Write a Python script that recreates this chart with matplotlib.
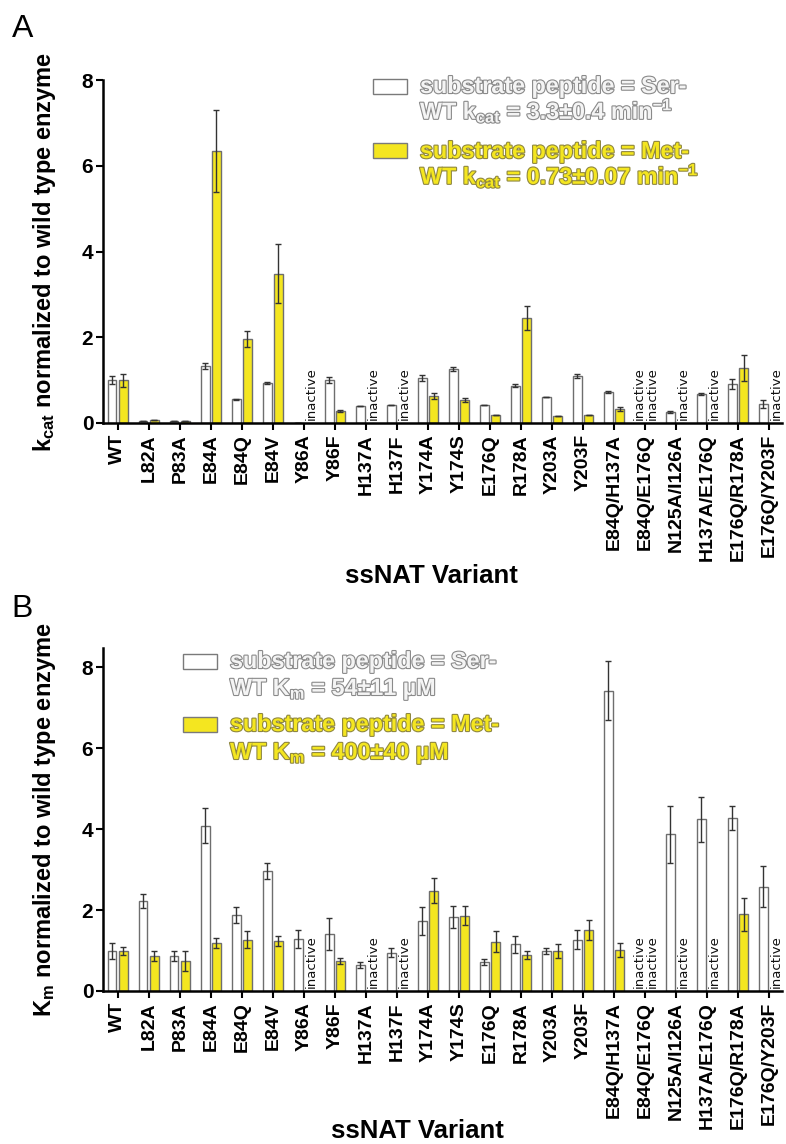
import numpy as np
import matplotlib
matplotlib.use("Agg")
import matplotlib.pyplot as plt
import matplotlib.patheffects as pe
from matplotlib.patches import Rectangle

plt.rcParams['font.family'] = ['Liberation Sans', 'DejaVu Sans']
plt.rcParams['font.weight'] = 'bold'
plt.rcParams['mathtext.fontset'] = 'custom'
plt.rcParams['mathtext.rm'] = 'Liberation Sans:bold'
plt.rcParams['mathtext.it'] = 'Liberation Sans:bold'
plt.rcParams['mathtext.bf'] = 'Liberation Sans:bold'

variants = ['WT', 'L82A', 'P83A', 'E84A', 'E84Q', 'E84V', 'Y86A', 'Y86F',
            'H137A', 'H137F', 'Y174A', 'Y174S', 'E176Q', 'R178A', 'Y203A',
            'Y203F', 'E84Q/H137A', 'E84Q/E176Q', 'N125A/I126A', 'H137A/E176Q',
            'E176Q/R178A', 'E176Q/Y203F']

nan = np.nan
# panel A: kcat relative to WT (nan = inactive)
kcat_ser = [1.0, 0.05, 0.04, 1.34, 0.55, 0.93, 0.01, 1.0, 0.40, 0.42, 1.05, 1.26,
            0.42, 0.87, 0.61, 1.10, 0.73, nan, 0.26, 0.68, 0.91, 0.44]
kcat_ser_err = [0.09, 0.0, 0.0, 0.07, 0.02, 0.02, 0.0, 0.07, 0.0, 0.0, 0.06, 0.05,
                0.0, 0.03, 0.0, 0.05, 0.02, nan, 0.02, 0.02, 0.12, 0.09]
kcat_met = [1.0, 0.08, 0.04, 6.35, 1.96, 3.48, nan, 0.28, nan, nan, 0.64, 0.53,
            0.19, 2.46, 0.16, 0.19, 0.33, nan, nan, nan, 1.28, nan]
kcat_met_err = [0.15, 0.0, 0.0, 0.96, 0.19, 0.69, nan, 0.03, nan, nan, 0.07, 0.05,
                0.0, 0.28, 0.0, 0.0, 0.04, nan, nan, nan, 0.31, nan]

# panel B: Km relative to WT
km_ser = [0.99, 2.22, 0.86, 4.08, 1.88, 2.96, 1.28, 1.41, 0.64, 0.95, 1.73, 1.83,
          0.71, 1.15, 0.99, 1.27, 7.42, nan, 3.87, 4.24, 4.28, 2.58]
km_ser_err = [0.2, 0.18, 0.13, 0.43, 0.2, 0.2, 0.22, 0.4, 0.08, 0.1, 0.35, 0.28,
              0.07, 0.2, 0.08, 0.24, 0.74, nan, 0.7, 0.55, 0.3, 0.5]
km_met = [0.99, 0.86, 0.74, 1.19, 1.27, 1.23, nan, 0.74, nan, nan, 2.48, 1.86,
          1.22, 0.9, 0.99, 1.5, 1.01, nan, nan, nan, 1.89, nan]
km_met_err = [0.1, 0.12, 0.24, 0.12, 0.2, 0.13, nan, 0.07, nan, nan, 0.3, 0.24,
              0.25, 0.1, 0.18, 0.25, 0.17, nan, nan, nan, 0.4, nan]

W, H = 786, 1144
fig = plt.figure(figsize=(W / 100, H / 100), dpi=100)

white_c = '#ffffff'
yellow_c = '#f4e620'
edge_c = '#6e6e6e'


def px_axes(left, top, right, bottom):
    return fig.add_axes([left / W, 1 - bottom / H, (right - left) / W, (bottom - top) / H])


def draw_panel(ax, ser, ser_err, met, met_err, ymax):
    x = np.arange(len(variants))
    off, bw = 0.18, 0.27
    ekw = dict(ecolor='#333333', elinewidth=1.0, capsize=2.2, capthick=1.0)
    ax.bar(x - off, ser, bw, yerr=ser_err, color=white_c, edgecolor=edge_c,
           linewidth=1.0, error_kw=ekw, zorder=2)
    ax.bar(x + off, met, bw, yerr=met_err, color=yellow_c, edgecolor=edge_c,
           linewidth=1.0, error_kw=ekw, zorder=2)
    for i in range(len(variants)):
        for dx, v in ((-0.2, ser[i]), (0.25, met[i])):
            if np.isnan(v):
                ax.annotate('inactive', (x[i] + dx, 0), xytext=(0, 2),
                            textcoords='offset points', rotation=90,
                            ha='center', va='bottom', fontsize=9.5,
                            family='DejaVu Sans', fontweight='normal',
                            color='#111111')
    ax.set_xlim(-0.48, 21.42)
    ax.set_ylim(0, ymax)
    ax.set_xticks(x)
    ax.set_xticklabels(variants, rotation=90, fontsize=14, fontweight='bold')
    ax.set_yticks([0, 2, 4, 6, 8])
    ax.tick_params(axis='y', labelsize=15, width=1.5, length=5, pad=2)
    ax.tick_params(axis='x', width=1.5, length=5, pad=3)
    for s in ('top', 'right'):
        ax.spines[s].set_visible(False)
    for s in ('left', 'bottom'):
        ax.spines[s].set_linewidth(1.8)


def legend_block(lines, box_top):
    # lines: list of (text, fill, stroke, baseline_y_px)
    for (txt, fill, stroke, by) in lines:
        t = fig.text(box_top['text_x'] / W, 1 - by / H, txt, fontsize=16.8,
                     fontweight='bold', color=fill, va='baseline', ha='left')
        t.set_path_effects([pe.Stroke(linewidth=1.6, foreground=stroke), pe.Normal()])
    for (bt, fill) in box_top['boxes']:
        fig.patches.append(Rectangle((box_top['box_x'] / W, 1 - (bt + 15) / H),
                                     34 / W, 15 / H, transform=fig.transFigure,
                                     facecolor=fill, edgecolor='#7a7a7a', linewidth=1.0))


# ---- panel A
axA = px_axes(103, 80, 782, 423)
draw_panel(axA, kcat_ser, kcat_ser_err, kcat_met, kcat_met_err, 8)
axA.set_ylabel('k$_\\mathrm{cat}$ normalized to wild type enzyme', fontsize=17, fontweight='bold')
axA.yaxis.set_label_coords(-0.066, 0.5)
fig.text(431 / W, 1 - 576 / H, 'ssNAT Variant', fontsize=18.5, fontweight='bold',
         ha='center', va='center')
fig.text(12 / W, 1 - 37 / H, 'A', fontsize=23, fontweight='normal', va='baseline')

legend_block([
    ('substrate peptide = Ser-', '#f4f4f4', '#8a8a8a', 93),
    ('WT k$_\\mathrm{cat}$ = 3.3±0.4 min$^\\mathrm{-1}$', '#f4f4f4', '#8a8a8a', 119),
    ('substrate peptide = Met-', yellow_c, '#8f8740', 158),
    ('WT k$_\\mathrm{cat}$ = 0.73±0.07 min$^\\mathrm{-1}$', yellow_c, '#8f8740', 184),
], {'text_x': 420, 'box_x': 373, 'boxes': [(79, white_c), (143, yellow_c)]})

# ---- panel B
axB = px_axes(103, 648, 782, 991)
draw_panel(axB, km_ser, km_ser_err, km_met, km_met_err, 8.47)
axB.set_ylabel('K$_\\mathrm{m}$ normalized to wild type enzyme', fontsize=17, fontweight='bold')
axB.yaxis.set_label_coords(-0.066, 0.5)
fig.text(417 / W, 1 - 1131 / H, 'ssNAT Variant', fontsize=18.5, fontweight='bold',
         ha='center', va='center')
fig.text(11 / W, 1 - 617 / H, 'B', fontsize=23, fontweight='normal', va='baseline')

legend_block([
    ('substrate peptide = Ser-', '#f4f4f4', '#8a8a8a', 668),
    ('WT K$_\\mathrm{m}$ = 54±11 µM', '#f4f4f4', '#8a8a8a', 695),
    ('substrate peptide = Met-', yellow_c, '#8f8740', 731),
    ('WT K$_\\mathrm{m}$ = 400±40 µM', yellow_c, '#8f8740', 759),
], {'text_x': 230, 'box_x': 183, 'boxes': [(654, white_c), (717, yellow_c)]})

fig.savefig('out.png', dpi=100)
